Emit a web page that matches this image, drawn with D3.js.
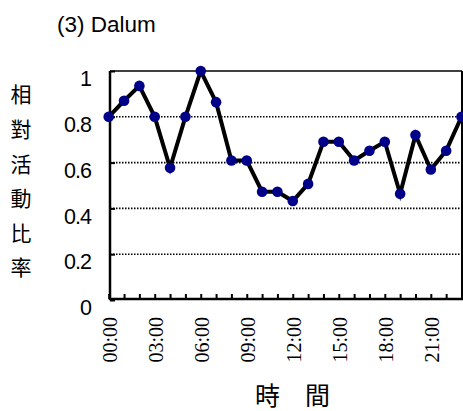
<!DOCTYPE html>
<html>
<head>
<meta charset="utf-8">
<script src="https://cdn.jsdelivr.net/npm/d3@7"></script>
<style>
  body { margin: 0; background: #fff; }
  svg { display: block; }
</style>
</head>
<body>
<script>
// chart data
const hours = d3.range(24);
const activity = [0.80, 0.87, 0.935, 0.80, 0.577, 0.80, 1.0, 0.864, 0.609, 0.609, 0.473, 0.473,
                  0.432, 0.507, 0.691, 0.691, 0.609, 0.652, 0.691, 0.464, 0.72, 0.57, 0.652, 0.80];
const xTickLabels = ["00:00", "03:00", "06:00", "09:00", "12:00", "15:00", "18:00", "21:00"];
const yTicks = [0, 0.2, 0.4, 0.6, 0.8, 1];
const yTitle = ["相", "對", "活", "動", "比", "率"];

const w = 463;
const h = 411;
const plotLeft = 110;
const plotRight = 462;
const plotTop = 71;
const plotBottom = 300;

const svg = d3.select("body").append("svg").attr("width", w).attr("height", h);

const x = d3.scalePoint().domain(hours).range([108.7, 461.5]);
const y = d3.scaleLinear().domain([0, 1]).range([plotBottom, plotTop]);

// Title
svg.append("text")
  .attr("x", 57)
  .attr("y", 31.5)
  .style("font-family", "'Liberation Sans', Arial, sans-serif")
  .style("font-size", "22.5px")
  .text("(3) Dalum");

// dotted gridlines
svg.append("g")
  .selectAll("line")
  .data(yTicks.filter(d => d > 0 && d < 1))
  .join("line")
  .attr("x1", plotLeft)
  .attr("x2", plotRight)
  .attr("y1", d => y(d))
  .attr("y2", d => y(d))
  .attr("stroke", "#000")
  .attr("stroke-width", 1.6)
  .attr("stroke-dasharray", "1.5,1.5");

// y axis
const yAxis = svg.append("g")
  .attr("transform", `translate(${plotLeft},0)`)
  .call(d3.axisLeft(y).tickValues(yTicks).tickSize(-5).tickPadding(19).tickFormat(d3.format("")));
yAxis.select(".domain").remove();
yAxis.selectAll(".tick line").attr("stroke-width", 2);
yAxis.selectAll("text")
  .style("font-family", "'Liberation Sans', Arial, sans-serif")
  .style("font-size", "21.5px")
  .attr("letter-spacing", -1)
  .attr("dy", "0.68em");

// x axis
const xAxis = svg.append("g")
  .attr("transform", `translate(0,${plotBottom - 1})`)
  .call(d3.axisBottom(x).tickValues(hours).tickSize(-5).tickPadding(18)
    .tickFormat(d => (d % 3 === 0 ? xTickLabels[d / 3] : "")));
xAxis.select(".domain").remove();
xAxis.selectAll(".tick line").attr("stroke-width", 2);
xAxis.selectAll("text")
  .style("font-family", "'Liberation Serif', 'Times New Roman', serif")
  .style("font-size", "20px")
  .attr("text-anchor", "end")
  .attr("transform", "rotate(-90)")
  .attr("x", -18)
  .attr("y", 0)
  .attr("dy", "0.4em");

// frame
svg.append("line").attr("x1", plotLeft).attr("x2", plotRight).attr("y1", plotTop).attr("y2", plotTop)
  .attr("stroke", "#000").attr("stroke-width", 1.6);
svg.append("line").attr("x1", plotRight).attr("x2", plotRight).attr("y1", plotTop).attr("y2", plotBottom)
  .attr("stroke", "#000").attr("stroke-width", 2);
svg.append("line").attr("x1", plotLeft).attr("x2", plotLeft).attr("y1", plotTop).attr("y2", plotBottom)
  .attr("stroke", "#000").attr("stroke-width", 2.5);
svg.append("line").attr("x1", plotLeft - 1).attr("x2", plotRight + 1).attr("y1", plotBottom - 1).attr("y2", plotBottom - 1)
  .attr("stroke", "#000").attr("stroke-width", 2.5);

// the line
const line = d3.line().x((d, i) => x(hours[i])).y(d => y(d));
svg.append("path")
  .datum(activity)
  .attr("d", line)
  .attr("fill", "none")
  .attr("stroke", "#000")
  .attr("stroke-width", 4)
  .attr("stroke-linejoin", "miter");

// markers
svg.append("g")
  .selectAll("circle")
  .data(activity)
  .join("circle")
  .attr("cx", (d, i) => x(hours[i]))
  .attr("cy", d => y(d))
  .attr("r", 5.3)
  .attr("fill", "#000088");

// y title, one character per row
svg.append("g")
  .selectAll("text")
  .data(yTitle)
  .join("text")
  .attr("x", 21)
  .attr("y", (d, i) => 95 + i * 34.6)
  .attr("dy", "0.35em")
  .attr("text-anchor", "middle")
  .style("font-family", "'Noto Sans CJK TC', sans-serif")
  .style("font-size", "21px")
  .text(d => d);

// x title
svg.append("text")
  .attr("x", 292.5)
  .attr("y", 396)
  .attr("dy", "0.35em")
  .attr("text-anchor", "middle")
  .style("font-family", "'Noto Sans CJK TC', sans-serif")
  .style("font-size", "25px")
  .text("時\u3000間");
</script>
</body>
</html>
